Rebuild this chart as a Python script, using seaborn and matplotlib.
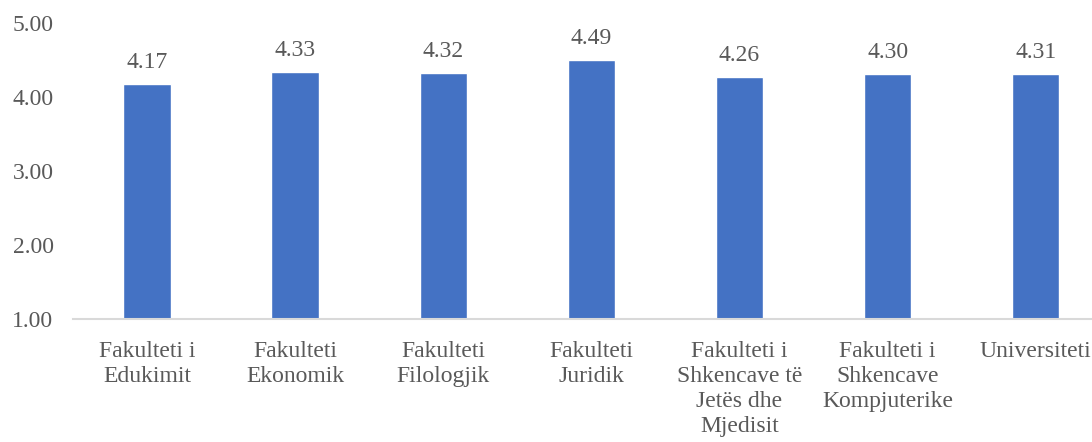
import matplotlib
matplotlib.use('Agg')
import matplotlib.pyplot as plt
import numpy as np
import pandas as pd
import seaborn as sns

categories = ['Fakulteti i\nEdukimit', 'Fakulteti\nEkonomik', 'Fakulteti\nFilologjik',
              'Fakulteti\nJuridik', 'Fakulteti i\nShkencave të\nJetës dhe\nMjedisit',
              'Fakulteti i\nShkencave\nKompjuterike', 'Universiteti']
values = [4.17, 4.33, 4.32, 4.49, 4.26, 4.30, 4.31]
y_ticks = [1.0, 2.0, 3.0, 4.0, 5.0]

BAR_COLOR = '#4472C4'
TEXT_COLOR = '#595959'
FS = 17

sns.set_theme(style='white')
plt.rcParams['font.family'] = ['Liberation Serif', 'DejaVu Serif']

df = pd.DataFrame({'cat': categories, 'val': values})

fig = plt.figure(figsize=(10.92, 4.42), dpi=100)
ax = fig.add_axes([0.0668, 0.278, 0.9332, 0.671])
sns.barplot(data=df, x='cat', y='val', color=BAR_COLOR, width=0.32, ax=ax,
            saturation=1, bottom=0)

ax.set_ylim(1.0, 5.0)
ax.set_xlim(-0.5, 6.38)
ax.set_yticks(y_ticks)
ax.set_yticklabels([f'{t:.2f}' for t in y_ticks])

for i, v in enumerate(values):
    ax.annotate(f'{v:.2f}', (i, v), xytext=(0, 8), textcoords='offset points',
                ha='center', va='bottom', fontsize=FS, color=TEXT_COLOR)

ax.set_xlabel('')
ax.set_ylabel('')
ax.tick_params(axis='both', length=0, labelsize=FS, colors=TEXT_COLOR)
ax.tick_params(axis='y', pad=14)
ax.tick_params(axis='x', pad=16)
for lbl in ax.get_xticklabels():
    lbl.set_linespacing(1.25)
for side in ['top', 'right', 'left']:
    ax.spines[side].set_visible(False)
ax.spines['bottom'].set_color('#D9D9D9')
ax.spines['bottom'].set_linewidth(1.5)
ax.set_facecolor('white')

fig.savefig('out.png', dpi=100, facecolor='white')
